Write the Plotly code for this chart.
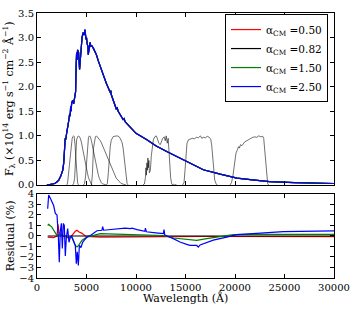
import plotly.graph_objects as go

# ---------------- data ----------------
alphas = ["0.50", "0.82", "1.50", "2.50"]
colors = ["#ff0000", "#000000", "#008000", "#0000ff"]

spec_wl = [1000, 1500, 1800, 2000, 2200, 2400, 2600, 2700, 2800, 2850, 2900, 3000, 3100, 3200,
           3300, 3350, 3400, 3450, 3500, 3600, 3700, 3800, 3900, 3950, 4000, 4050, 4100, 4200,
           4300, 4350, 4450, 4550, 4650, 4750, 4850, 4950, 5000, 5080, 5150, 5180, 5250, 5350,
           5450, 5550, 5700, 5850, 6000, 6200, 6400, 6650, 7000, 7400, 7450, 7500, 8000, 8100,
           8200, 8700, 8800, 8900, 9700, 10000, 11100, 12000, 13100, 14400, 16800, 18500, 20200,
           22000, 23500, 26000, 30000]
spec_flux = [0.00, 0.01, 0.03, 0.06, 0.10, 0.18, 0.30, 0.45, 0.75, 0.95, 0.92, 1.06, 1.15, 1.30,
             1.45, 1.40, 1.60, 1.50, 1.67, 1.72, 1.65, 1.82, 1.90, 2.40, 2.69, 2.55, 2.75, 2.70,
             2.35, 2.50, 2.90, 3.00, 3.10, 3.05, 3.16, 2.96, 3.00, 2.86, 2.82, 2.65, 2.80, 2.90,
             2.82, 2.83, 2.78, 2.72, 2.65, 2.52, 2.40, 2.24, 2.07, 1.88, 1.92, 1.84, 1.55, 1.57,
             1.50, 1.33, 1.35, 1.29, 1.12, 1.05, 0.92, 0.80, 0.68, 0.55, 0.31, 0.22, 0.14,
             0.10, 0.07, 0.05, 0.03]

U_wl = [3000, 3050, 3100, 3150, 3200, 3250, 3300, 3350, 3400, 3450, 3500, 3550, 3600, 3650, 3700,
        3750, 3800, 3850, 3900, 3950, 4000, 4050, 4100, 4150, 4200]
U_tr = [0.0, 0.016, 0.068, 0.167, 0.287, 0.423, 0.560, 0.673, 0.772, 0.841, 0.905, 0.943, 0.981,
        0.993, 1.0, 0.989, 0.916, 0.804, 0.625, 0.423, 0.238, 0.114, 0.051, 0.019, 0.0]
B_wl = [3600, 3700, 3800, 3900, 4000, 4100, 4200, 4300, 4400, 4500, 4600, 4700, 4800, 4900, 5000,
        5100, 5200, 5300, 5400, 5500, 5600]
B_tr = [0.0, 0.030, 0.134, 0.567, 0.920, 0.978, 1.0, 0.978, 0.935, 0.853, 0.740, 0.640, 0.536,
        0.424, 0.325, 0.235, 0.150, 0.095, 0.043, 0.009, 0.0]
V_wl = [4700, 4800, 4900, 5000, 5100, 5200, 5300, 5400, 5500, 5600, 5700, 5800, 5900, 6000, 6100,
        6200, 6300, 6400, 6500, 6600, 6700, 6800, 6900, 7000]
V_tr = [0.0, 0.030, 0.163, 0.458, 0.780, 0.967, 1.0, 0.973, 0.898, 0.792, 0.684, 0.574, 0.461,
        0.359, 0.270, 0.197, 0.135, 0.081, 0.045, 0.025, 0.017, 0.013, 0.009, 0.0]
R_wl = [5500, 5600, 5700, 5800, 5900, 6000, 6100, 6200, 6300, 6400, 6500, 6600, 6700, 6800, 6900,
        7000, 7100, 7200, 7300, 7400, 7500, 8000, 8500, 9000]
R_tr = [0.0, 0.23, 0.74, 0.91, 0.98, 1.0, 0.98, 0.96, 0.93, 0.90, 0.86, 0.81, 0.78, 0.72, 0.67,
        0.61, 0.56, 0.51, 0.46, 0.40, 0.35, 0.14, 0.03, 0.0]
I_wl = [7000, 7100, 7200, 7300, 7400, 7500, 7600, 7700, 7800, 7900, 8000, 8100, 8200, 8300, 8400,
        8500, 8600, 8700, 8800, 8900, 9000, 9100, 9200]
I_tr = [0.0, 0.024, 0.232, 0.555, 0.785, 0.910, 0.965, 0.985, 0.990, 0.995, 1.0, 1.0, 0.990,
        0.980, 0.950, 0.910, 0.860, 0.750, 0.560, 0.330, 0.150, 0.030, 0.0]
J_wl = [10700, 10850, 10950, 11000, 11050, 11100, 11150, 11200, 11250, 11300, 11350, 11450, 11550,
        11650, 11750, 11900, 12050, 12150, 12300, 12450, 12550, 12700, 12850, 12950, 13050, 13150,
        13250, 13300, 13400, 13500, 13600, 13700, 13800, 13900, 14000, 14100]
J_tr = [0.0, 0.02, 0.15, 0.35, 0.20, 0.45, 0.30, 0.55, 0.35, 0.50, 0.25, 0.30, 0.60, 0.85, 0.92,
        0.98, 1.00, 0.95, 0.85, 0.82, 0.88, 0.95, 0.98, 0.90, 1.00, 0.85, 0.95, 0.75, 0.40, 0.15,
        0.03, 0.0, 0.02, 0.0, 0.01, 0.0]
H_wl = [14700, 14850, 14950, 15050, 15150, 15300, 15500, 15700, 15900, 16100, 16300, 16500, 16650,
        16800, 17000, 17200, 17400, 17550, 17650, 17750, 17850, 17950, 18100, 18200]
H_tr = [0.0, 0.05, 0.30, 0.65, 0.85, 0.92, 0.93, 0.95, 0.94, 0.97, 0.96, 1.00, 0.95, 0.97, 0.96,
        0.99, 0.97, 0.93, 0.80, 0.55, 0.30, 0.10, 0.02, 0.0]
K_wl = [19500, 19650, 19800, 19950, 20100, 20250, 20350, 20450, 20550, 20700, 20850, 21000, 21200,
        21400, 21600, 21800, 22000, 22200, 22400, 22600, 22800, 22900, 23000, 23100, 23200, 23300,
        23400]
K_tr = [0.0, 0.05, 0.20, 0.45, 0.65, 0.72, 0.78, 0.75, 0.82, 0.80, 0.85, 0.88, 0.90, 0.93, 0.95,
        0.97, 0.98, 0.97, 1.00, 0.98, 0.99, 0.95, 0.70, 0.40, 0.15, 0.03, 0.0]

res_red_wl = [1080, 1680, 2020, 2120, 2220, 2360, 2700, 3370, 3870, 4040, 4210, 4550, 4880, 5390,
              6400, 11000, 17000, 30000]
res_red = [-0.1, -0.16, 0.0, 1.1, 0.4, 0.1, -0.03, -0.13, 0.45, 0.55, 0.4, 0.25, 0.0, -0.06,
           -0.1, -0.06, -0.05, -0.05]
res_black_wl = [1080, 30000]
res_black = [0.0, 0.0]
res_green_wl = [1080, 1180, 1500, 1680, 1850, 2020, 2300, 2860, 3200, 3500, 3870, 4040, 4200, 4550,
                5050, 5720, 6400, 8750, 10100, 11000, 12760, 13770, 15120, 16130, 17140, 18490,
                19830, 22190, 30000]
res_green = [1.0, 1.1, 0.85, 0.55, 0.4, 0.05, 0.1, 0.05, -0.25, -0.1, -0.9, -1.05, -0.9, -0.4,
             -0.1, 0.05, 0.22, 0.16, 0.13, 0.13, 0.05, -0.19, -0.35, -0.41, -0.25, -0.05, 0.13,
             0.16, 0.16]
res_blue_wl = [1080, 1180, 1350, 1680, 1850, 2020, 2150, 2250, 2350, 2460, 2560, 2660, 2760, 2860,
               2960, 3100, 3230, 3370, 3500, 3700, 3870, 3970, 4070, 4175, 4280, 4440, 4610, 4780,
               5050, 5390, 5720, 6060, 6560, 6630, 6730, 7740, 8900, 9430, 9600, 10100, 10500,
               10900, 10950, 11050, 12000, 12760, 12830, 12900, 13770, 14440, 15120, 15450, 16130,
               16300, 16470, 17810, 19160, 20170, 22190, 24880, 30000]
res_blue = [2.6, 3.9, 3.6, 2.9, 2.15, 2.0, 0.05, -2.5, 0.4, 1.2, -1.2, 1.2, 1.0, -1.9, -0.2, 0.7,
            -0.6, -0.1, 0.0, -0.6, -0.9, -2.65, -1.5, -2.8, -0.9, -1.1, -0.6, -0.4, -0.1, 0.05,
            0.3, 0.5, 0.55, 0.9, 0.55, 0.65, 0.75, 0.7, 0.75, 0.6, 0.5, 0.45, 0.75, 0.4, 0.3,
            0.22, 0.6, 0.1, -0.25, -0.57, -0.8, -0.9, -0.9, -1.05, -0.85, -0.4, -0.1, 0.13, 0.25,
            0.42, 0.48]

x_ticks = [0, 5000, 10000, 15000, 20000, 25000, 30000]
top_yticks = [0.0, 0.5, 1.0, 1.5, 2.0, 2.5, 3.0, 3.5]
bot_yticks = [-4, -3, -2, -1, 0, 1, 2, 3, 4]

# ---------------- figure ----------------
FONT = "DejaVu Serif"
fig = go.Figure()

filters = [(U_wl, U_tr), (B_wl, B_tr), (V_wl, V_tr), (R_wl, R_tr), (I_wl, I_tr),
           (J_wl, J_tr), (H_wl, H_tr), (K_wl, K_tr)]
for wl, tr in filters:
    fig.add_trace(go.Scatter(x=wl, y=tr, mode="lines", xaxis="x", yaxis="y",
                             line=dict(color="rgba(0,0,0,0.7)", width=0.8),
                             showlegend=False, hoverinfo="skip"))

for a, c in zip(alphas, colors):
    fig.add_trace(go.Scatter(x=spec_wl, y=spec_flux, mode="lines", xaxis="x", yaxis="y",
                             line=dict(color=c, width=1.2), showlegend=False))

res_sets = [(res_red_wl, res_red), (res_black_wl, res_black),
            (res_green_wl, res_green), (res_blue_wl, res_blue)]
for (wl, r), a, c in zip(res_sets, alphas, colors):
    fig.add_trace(go.Scatter(x=wl, y=r, mode="lines", xaxis="x2", yaxis="y2",
                             line=dict(color=c, width=1.2),
                             name=f"α<sub>CM</sub> ={a}"))

axis_common = dict(showline=True, linecolor="black", linewidth=1, mirror="ticks",
                   ticks="inside", ticklen=4, tickwidth=0.8, tickcolor="black",
                   showgrid=False, zeroline=False, automargin=False,
                   tickfont=dict(family=FONT, size=10, color="black"))

fig.update_layout(
    width=354, height=309,
    margin=dict(l=37, r=20, t=13, b=31),
    paper_bgcolor="white", plot_bgcolor="white",
    font=dict(family=FONT, size=10, color="black"),
    xaxis=dict(domain=[0, 1], anchor="y", range=[0, 30000], tickvals=x_ticks,
               showticklabels=False, **axis_common),
    yaxis=dict(domain=[0.351, 1], anchor="x", range=[0, 3.5], tickvals=top_yticks,
               tickformat=".1f", **axis_common),
    xaxis2=dict(domain=[0, 1], anchor="y2", range=[0, 30000], tickvals=x_ticks,
                tickformat="d", **axis_common),
    yaxis2=dict(domain=[0, 0.317], anchor="x2", range=[-4, 4], tickvals=bot_yticks,
                **axis_common),
    legend=dict(x=0.633, y=0.996, xanchor="left", yanchor="top",
                bgcolor="white", bordercolor="black", borderwidth=1,
                font=dict(family=FONT, size=10.5, color="black")),
    annotations=[
        dict(text="F<sub>λ</sub> (×10<sup>14</sup> erg s<sup>−1</sup> cm<sup>−2</sup> Å<sup>−1</sup>)",
             xref="paper", yref="y domain", x=-0.094, y=0.5, xanchor="center",
             yanchor="middle", textangle=-90, showarrow=False,
             font=dict(family=FONT, size=11, color="black")),
        dict(text="Residual (%)", xref="paper", yref="y2 domain", x=-0.087, y=0.5,
             xanchor="center", yanchor="middle", textangle=-90, showarrow=False,
             font=dict(family=FONT, size=11, color="black")),
        dict(text="Wavelength (Å)", xref="paper", yref="paper", x=0.5, y=-0.075,
             xanchor="center", yanchor="middle", showarrow=False,
             font=dict(family=FONT, size=11, color="black")),
    ],
)

fig.write_html("out.html", config={"displayModeBar": False},
               post_script="document.body.style.margin='0';document.body.style.padding='0';")
